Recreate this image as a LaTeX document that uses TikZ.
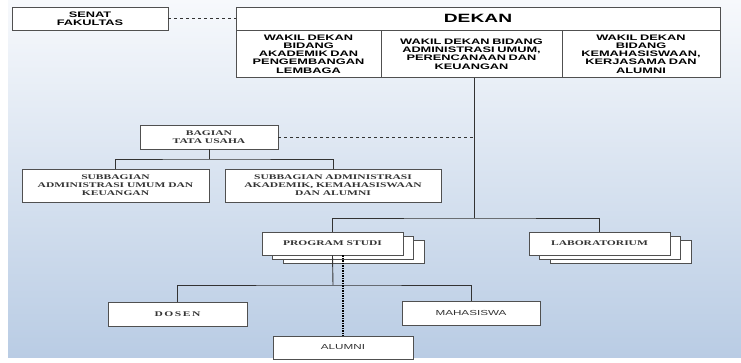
\documentclass[tikz,border=0pt]{standalone}
\usepackage{fontspec}
\newfontfamily\orgsans[FakeStretch=1.6]{Liberation Sans}
\newfontfamily\orgserif[FakeStretch=1.6]{Liberation Serif}
\usepackage{tikz}
\usetikzlibrary{shadows, calc}
\definecolor{boxline}{HTML}{505050}
\definecolor{bgblue}{HTML}{B9CCE4}
\definecolor{bgtop}{HTML}{F7F9FC}
\definecolor{inkgray}{HTML}{333333}
\newcommand{\topfont}{\orgsans\bfseries\fontsize{8}{8.3}\selectfont}
\newcommand{\lowfont}{\orgserif\bfseries\fontsize{7.2}{8}\selectfont}
\newcommand{\lowsans}{\orgsans\fontsize{7.3}{8}\selectfont}
\tikzstyle{unit}=[shape=rectangle, draw=boxline, line width=0.9pt, fill=white, inner sep=1pt, align=center, text=inkgray]
\tikzstyle{stack}=[unit, double copy shadow={shadow xshift=10.5pt, shadow yshift=-4pt, draw=boxline, line width=0.9pt, fill=white}]
\tikzstyle{link}=[draw=black!80, line width=0.9pt]

\begin{document}
\begin{tikzpicture}[x=1pt, y=-1pt]
\useasboundingbox (0,0) rectangle (741,363);
\shade[top color=bgtop, bottom color=bgblue] (8,0) rectangle (741,357);
% pimpinan
\node[unit, minimum width=156, minimum height=23, font=\topfont, text=black] (senat) at (90,18.5) {SENAT\\FAKULTAS};
\node[unit, minimum width=484, minimum height=23, font=\orgsans\bfseries\fontsize{12}{12}\selectfont, text=black] (dekan) at (478,18.5) {DEKAN};
\node[unit, anchor=north, minimum width=145, minimum height=47, text width=140, font=\topfont, text=black] (wakilA) at (308.5,30) {WAKIL DEKAN\\BIDANG\\AKADEMIK DAN\\PENGEMBANGAN\\LEMBAGA};
\node[unit, anchor=north, minimum width=181, minimum height=47, text width=176, font=\topfont, text=black] (wakilB) at (471.5,30) {WAKIL DEKAN BIDANG\\ADMINISTRASI UMUM,\\PERENCANAAN DAN\\KEUANGAN\\[6pt]};
\node[unit, anchor=north, minimum width=158, minimum height=47, text width=153, font=\topfont, text=black] (wakilC) at (641,30) {WAKIL DEKAN\\BIDANG\\KEMAHASISWAAN,\\KERJASAMA DAN\\ALUMNI};
\draw[link, dashed] (senat.east) -- (dekan.west);
\coordinate (pusat) at (474,218);
\draw[link] (wakilB.south -| pusat) -- (pusat);
% tata usaha
\node[unit, minimum width=138, minimum height=24, font=\lowfont] (bagian) at (209,137) {BAGIAN\\TATA USAHA};
\node[unit, minimum width=187, minimum height=33, font=\lowfont] (subA) at (115.5,185.5) {SUBBAGIAN\\ADMINISTRASI UMUM DAN\\KEUANGAN};
\node[unit, minimum width=216, minimum height=33, font=\lowfont] (subB) at (333,185.5) {SUBBAGIAN ADMINISTRASI\\AKADEMIK, KEMAHASISWAAN\\DAN ALUMNI};
\draw[link, dashed] (bagian.east) -- (bagian.east -| pusat);
\coordinate (tu) at (209,159);
\draw[link] (bagian.south) -- (tu);
\draw[link] (subA.north) |- (tu) -| (subB.north);
% program studi dan laboratorium
\node[stack, minimum width=141, minimum height=23, font=\lowfont] (prodi) at (332.5,243.5) {PROGRAM STUDI};
\node[stack, minimum width=141, minimum height=23, font=\lowfont] (lab) at (599.5,243.5) {LABORATORIUM};
\draw[link] (prodi.north) |- (pusat) -| (lab.north);
\node[unit, minimum width=139, minimum height=24, font=\lowfont] (dosen) at (177.5,314) {D\kern1.5pt O\kern1.5pt S\kern1.5pt E\kern1.5pt N};
\node[unit, minimum width=138, minimum height=24, font=\lowsans] (mhs) at (471,313) {MAHASISWA};
\node[unit, minimum width=140, minimum height=23, font=\lowsans] (alumni) at (343,347.5) {ALUMNI};
\coordinate (ps) at (333,285);
\draw[link] (prodi.south) -- (ps);
\draw[link] (dosen.north) |- (ps) -| (mhs.north);
\draw[black, line width=1.8pt, dash pattern=on 1.5pt off 1pt] (prodi.south -| alumni.north) -- (alumni.north);
\end{tikzpicture}
\end{document}
